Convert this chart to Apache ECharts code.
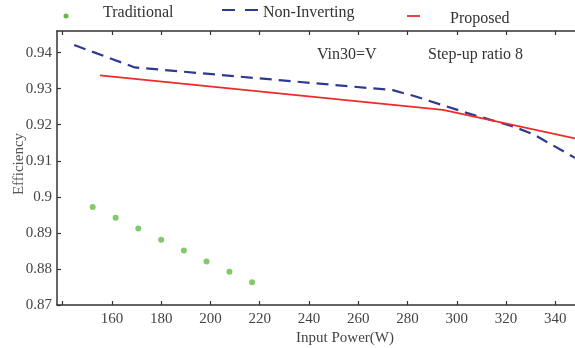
<!DOCTYPE html>
<html><head><meta charset="utf-8">
<script src="https://cdn.jsdelivr.net/npm/echarts@6/dist/echarts.min.js"></script>
<style>html,body{margin:0;padding:0;background:#fff}#c{width:575px;height:348px}</style>
</head><body><div id="c"></div>
<script>
const traditionalX = [152.2, 161.5, 170.7, 180.0, 189.2, 198.4, 207.7, 216.9];
const traditionalY = [0.8972, 0.8942, 0.8912, 0.8881, 0.8851, 0.8821, 0.8792, 0.8763];
const nonInvX = [144.7, 169.3, 274.0, 283.0, 304.0, 323.0, 331.0, 348.0];
const nonInvY = [0.9421, 0.9359, 0.9296, 0.9279, 0.9233, 0.9195, 0.9174, 0.9108];
const proposedX = [155.1, 294.4, 348.0];
const proposedY = [0.9337, 0.9241, 0.9162];
const xTicks = [140, 160, 180, 200, 220, 240, 260, 280, 300, 320, 340];
const xLabels = [160, 180, 200, 220, 240, 260, 280, 300, 320, 340];
const yTicks = [0.87, 0.88, 0.89, 0.90, 0.91, 0.92, 0.93, 0.94];
const seriesNames = ['Traditional', 'Non-Inverting', 'Proposed'];

const zip = (xs, ys) => xs.map((x, i) => [x, ys[i]]);
const font = '"Liberation Serif", "Times New Roman", serif';
const axisColor = '#333';
const labelColor = '#444';
const green = '#62bb46', blue = '#2e3a92', red = '#ee2a2a';

const chart = echarts.init(document.getElementById('c'), null, {renderer: 'canvas'});
const baseX = {
  type: 'value', min: 137.7, max: 348,
  axisLine: {show: true, lineStyle: {color: axisColor, width: 1.5}},
  axisTick: {show: true, inside: true, length: 4, customValues: xTicks, lineStyle: {color: axisColor, width: 1.2}},
  splitLine: {show: false}
};
chart.setOption({
  animation: false,
  backgroundColor: '#fff',
  grid: {left: 57, right: 0, top: 31, bottom: 43},
  xAxis: [
    Object.assign({}, baseX, {position: 'bottom',
      axisLabel: {customValues: xLabels, margin: 7, color: labelColor, fontFamily: font, fontSize: 15}}),
    Object.assign({}, baseX, {position: 'top', axisLabel: {show: false}})
  ],
  yAxis: {
    type: 'value', min: 0.87, max: 0.946,
    axisLine: {show: true, lineStyle: {color: axisColor, width: 1.5}},
    axisTick: {show: true, inside: true, length: 4, customValues: yTicks, lineStyle: {color: axisColor, width: 1.2}},
    axisLabel: {customValues: yTicks, margin: 5, color: labelColor, fontFamily: font, fontSize: 15,
      formatter: v => String(parseFloat(Number(v).toFixed(2)))},
    splitLine: {show: false}
  },
  series: [
    {name: seriesNames[0], type: 'scatter', data: zip(traditionalX, traditionalY), symbolSize: 6,
      itemStyle: {color: green}},
    {name: seriesNames[1], type: 'line', data: zip(nonInvX, nonInvY), showSymbol: false, symbol: 'none',
      lineStyle: {color: blue, width: 2.2, type: [12, 7]}},
    {name: seriesNames[2], type: 'line', data: zip(proposedX, proposedY), showSymbol: false, symbol: 'none',
      lineStyle: {color: red, width: 1.8}}
  ],
  graphic: [
    {type: 'circle', shape: {cx: 66, cy: 16, r: 2.5}, style: {fill: green}},
    {type: 'text', x: 103, y: 12.5, style: {text: seriesNames[0], font: '16px ' + font, fill: '#333', verticalAlign: 'middle'}},
    {type: 'line', shape: {x1: 222, y1: 10, x2: 258, y2: 10}, style: {stroke: blue, lineWidth: 2.2, lineDash: [13, 10]}},
    {type: 'text', x: 263, y: 12.5, style: {text: seriesNames[1], font: '16px ' + font, fill: '#333', verticalAlign: 'middle'}},
    {type: 'line', shape: {x1: 407, y1: 16, x2: 420, y2: 16}, style: {stroke: red, lineWidth: 1.8}},
    {type: 'text', x: 450, y: 18.5, style: {text: seriesNames[2], font: '16px ' + font, fill: '#333', verticalAlign: 'middle'}},
    {type: 'text', x: 317, y: 55, style: {text: 'Vin30=V', font: '16px ' + font, fill: '#333', verticalAlign: 'middle'}},
    {type: 'text', x: 428, y: 55, style: {text: 'Step-up ratio 8', font: '16px ' + font, fill: '#333', verticalAlign: 'middle'}},
    {type: 'text', x: 345, y: 338, style: {text: 'Input Power(W)', font: '15px ' + font, fill: '#444', align: 'center', verticalAlign: 'middle'}},
    {type: 'text', x: 19, y: 164, rotation: Math.PI / 2, style: {text: 'Efficiency', font: '15px ' + font, fill: '#555', align: 'center', verticalAlign: 'middle'}}
  ]
});
</script></body></html>
